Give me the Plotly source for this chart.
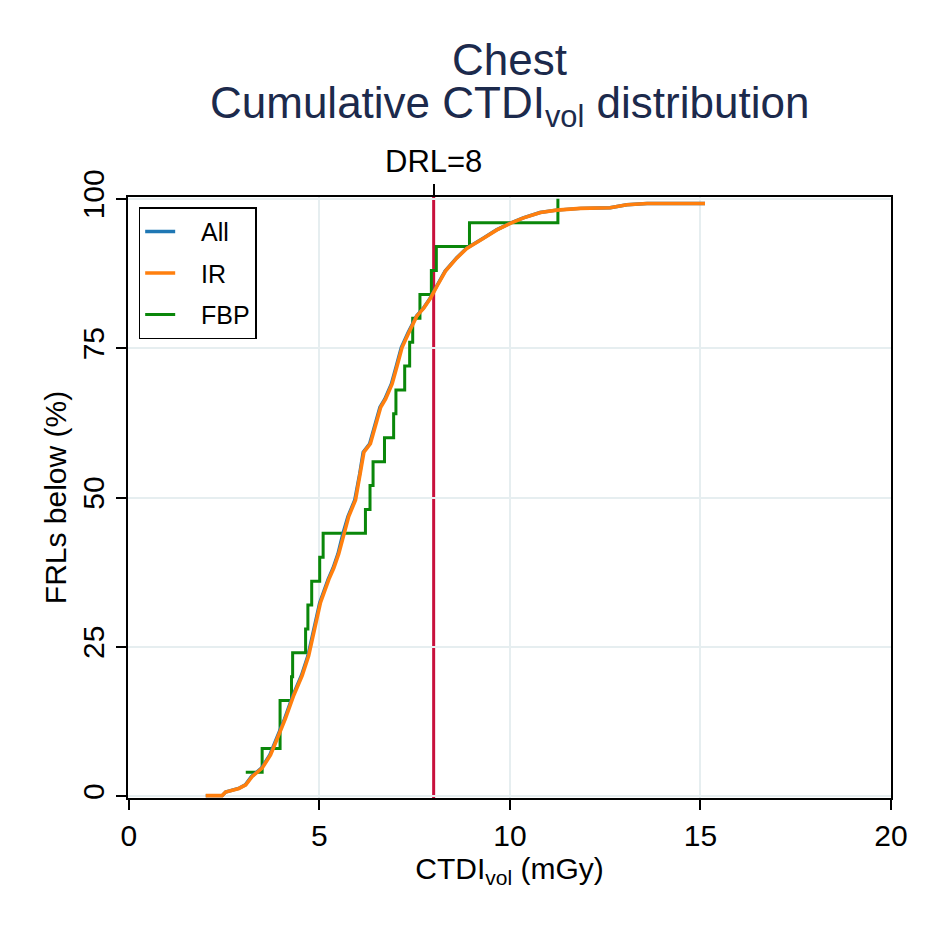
import plotly.graph_objects as go

# CTDIvol (mGy) vs cumulative share of FRLs (%)
ir_x = [2.02, 2.45, 2.54, 2.89, 3.07, 3.24, 3.50, 3.72, 3.90, 4.11, 4.33, 4.55,
        4.72, 4.86, 5.03, 5.25, 5.38, 5.51, 5.64, 5.77, 5.95, 6.08, 6.17, 6.34,
        6.47, 6.61, 6.74, 6.91, 7.04, 7.17, 7.35, 7.56, 7.74, 7.92, 8.09, 8.31,
        8.61, 8.87, 9.31, 9.66, 10.01, 10.36, 10.80, 11.23, 11.85, 12.63, 13.07,
        13.60, 15.12]
ir_y = [0.1, 0.1, 0.7, 1.3, 1.9, 3.3, 4.7, 6.9, 9.7, 13.0, 16.9, 20.2,
        23.5, 27.4, 32.4, 36.3, 38.2, 40.6, 44.0, 46.8, 49.6, 54.0, 57.6, 59.0,
        61.8, 65.1, 66.5, 69.0, 72.0, 75.1, 77.6, 80.4, 81.7, 83.4, 85.4, 87.9,
        90.1, 91.7, 93.4, 94.8, 95.9, 96.8, 97.7, 98.1, 98.4, 98.5, 99.0,
        99.2, 99.2]

all_x = [2.02, 2.45, 2.54, 2.88, 3.06, 3.22, 3.48, 3.70, 3.88, 4.09, 4.31, 4.53,
         4.70, 4.84, 5.01, 5.23, 5.36, 5.49, 5.62, 5.75, 5.93, 6.06, 6.15, 6.32,
         6.45, 6.59, 6.72, 6.89, 7.02, 7.15, 7.33, 7.55, 7.73, 7.91, 8.08, 8.30,
         8.60, 8.86, 9.30, 9.65, 10.00, 10.35, 10.79, 11.22, 11.85, 12.63, 13.07,
         13.60, 15.12]
all_y = ir_y

fbp_x = [3.07, 3.50, 3.97, 4.27, 4.30, 4.64, 4.70, 4.80, 5.01, 5.10, 6.21, 6.33,
         6.41, 6.71, 6.95, 7.01, 7.24, 7.37, 7.45, 7.64, 7.94, 8.07, 8.94, 11.26]
fbp_y = [4, 8, 16, 20, 24, 28, 32, 36, 40, 44, 48, 52,
         56, 60, 64, 68, 72, 76, 80, 84, 88, 92, 96, 100]

drl = 8

font = "Liberation Sans, Arial, sans-serif"
navy = "#1c2a4c"
pad = "\u00a0\u00a0\u00a0"  # push legend text right of the line sample

fig = go.Figure()
fig.add_trace(go.Scatter(x=fbp_x, y=fbp_y, mode="lines", name=pad + "FBP",
                         line_shape="hv", line=dict(color="#0a870a", width=3),
                         legendgroup="c", legendrank=3))
fig.add_trace(go.Scatter(x=all_x, y=all_y, mode="lines", name=pad + "All",
                         line=dict(color="#1f77b4", width=3.4),
                         legendgroup="a", legendrank=1))
# IR on the overlaid top axis so it is drawn above the others
fig.add_trace(go.Scatter(x=ir_x, y=ir_y, mode="lines", name=pad + "IR", xaxis="x2",
                         line=dict(color="#ff7f0e", width=3.6),
                         legendgroup="b", legendrank=2))

fig.add_shape(type="line", x0=drl, x1=drl, y0=0, y1=1, xref="x", yref="paper",
              line=dict(color="#c8103c", width=3), layer="between")

fig.add_annotation(text="Chest", x=0.5, y=1.228, xref="paper", yref="paper",
                   xanchor="center", yanchor="middle", showarrow=False,
                   font=dict(family=font, size=44, color=navy))
fig.add_annotation(text="Cumulative CTDI<sub>vol</sub> distribution", x=0.5, y=1.152,
                   xref="paper", yref="paper", xanchor="center", yanchor="middle",
                   showarrow=False, font=dict(family=font, size=44, color=navy))

xr = [-0.02, 20.0]
fig.update_layout(
    width=927, height=927,
    margin=dict(l=120, r=44, t=189, b=137),
    paper_bgcolor="white", plot_bgcolor="white",
    font=dict(family=font, size=30, color="black"),
    xaxis=dict(range=xr, tickvals=[0, 5, 10, 15, 20], ticks="outside", ticklen=10,
               tickwidth=2, tickcolor="black", showline=True, linecolor="black",
               linewidth=2, mirror=True, showgrid=True, gridcolor="#e6eef0",
               gridwidth=2, zeroline=False,
               title=dict(text="CTDI<sub>vol</sub> (mGy)", standoff=4,
                          font=dict(size=30))),
    xaxis2=dict(range=xr, overlaying="x", side="top", anchor="y",
                tickvals=[drl], ticktext=["DRL=%d" % drl], ticks="outside",
                ticklen=12, tickwidth=2, tickcolor="black", showgrid=False,
                showline=False, zeroline=False, tickfont=dict(size=31)),
    yaxis=dict(range=[-0.3, 100.3], tickvals=[0, 25, 50, 75, 100], tickangle=-90,
               ticks="outside", ticklen=10, tickwidth=2, tickcolor="black",
               showline=True, linecolor="black", linewidth=2, mirror=True,
               showgrid=True, gridcolor="#e6eef0", gridwidth=2, zeroline=False,
               title=dict(text="FRLs below (%)", standoff=2, font=dict(size=30))),
    legend=dict(x=0.014, y=0.983, xanchor="left", yanchor="top",
                bordercolor="black", borderwidth=1.5, bgcolor="white",
                font=dict(size=25), tracegroupgap=6, itemwidth=30),
    showlegend=True,
)

fig.write_html("out.html")
